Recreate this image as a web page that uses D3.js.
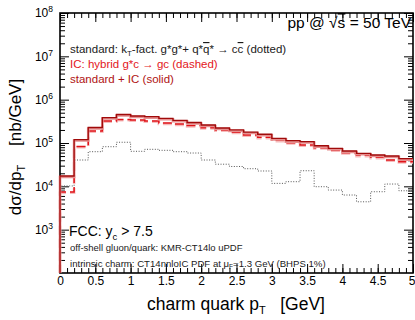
<!DOCTYPE html>
<html>
<head>
<meta charset="utf-8">
<script src="https://cdn.jsdelivr.net/npm/d3@7/dist/d3.min.js"></script>
<style>
body { margin: 0; background: #fff; }
svg text { font-family: "Liberation Sans", Arial, Helvetica, sans-serif; }
</style>
</head>
<body>
<div id="chart"></div>
<script>
// charm quark pT bin edges [GeV]
var ptEdges = [0, 0.2, 0.4, 0.6, 0.8, 1.0, 1.2, 1.4, 1.6, 1.8, 2.0, 2.2, 2.4, 2.6, 2.8, 3.0, 3.2, 3.4, 3.6, 3.8, 4.0, 4.2, 4.4, 4.6, 4.8, 5.0];

// standard + IC (solid)
var sumIC = [17300, 120000, 228000, 387000, 455000, 420000, 405000, 372000, 334000, 297000, 260000, 222000, 200000, 179000, 159000, 128000, 113000, 108000, 86500, 75400, 65300, 57800, 52800, 50100, 43400];
// IC: hybrid g*c -> gc (dashed)
var hybridIC = [7400, 83000, 189000, 322000, 349000, 340000, 322000, 289000, 274000, 253000, 225000, 200000, 177000, 153000, 135000, 115000, 102000, 89900, 77900, 68900, 59700, 52000, 46800, 40500, 37000];
// standard kT-fact. (dotted)
var standardKt = [10200, 40500, 63000, 82100, 104000, 64300, 71500, 67800, 63000, 58700, 40500, 32400, 28700, 25500, 22600, 11700, 12800, 22900, 9800, 8200, 6300, 4400, 7500, 11300, 7900];

var xTickVals = [0, 0.5, 1, 1.5, 2, 2.5, 3, 3.5, 4, 4.5, 5];
var yDecades = [1e3, 1e4, 1e5, 1e6, 1e7, 1e8];
var yExps = ['3', '4', '5', '6', '7', '8'];

render_hist('chart', 415, 320);

function render_hist(select, w, h) {
    var left = 60, right = 413, top = 13, bottom = 273;

    var svg = d3.select('#' + select).append('svg')
        .attr('width', w)
        .attr('height', h);

    var xscale = d3.scaleLinear().domain([0, 5]).range([left, right]);
    var yscale = d3.scaleLog().domain([1e2, 1e8]).range([bottom, top]);

    svg.append('clipPath').attr('id', 'plotclip')
        .append('rect')
        .attr('x', left - 2).attr('y', top)
        .attr('width', right - left + 2).attr('height', bottom - top);

    function histPoints(vals) {
        var pts = [[ptEdges[0], 1e2]];
        vals.forEach(function (v, i) { pts.push([ptEdges[i], v]); });
        pts.push([ptEdges[ptEdges.length - 1], vals[vals.length - 1]]);
        return pts;
    }

    var line = d3.line()
        .x(function (d) { return xscale(d[0]); })
        .y(function (d) { return yscale(d[1]); })
        .curve(d3.curveStepAfter);

    // frame
    svg.append('rect')
        .attr('x', left).attr('y', top)
        .attr('width', right - left).attr('height', bottom - top)
        .attr('fill', 'none')
        .attr('stroke', '#000')
        .attr('stroke-width', 1.6);

    // axes, ticks inside
    var majorLen = 9, minorLen = 5;
    var minorY = yscale.ticks().filter(function (d) {
        return Math.abs(Math.log10(d) - Math.round(Math.log10(d))) > 1e-6;
    });
    var minorX = xscale.ticks(50);

    function styleAxis(g) {
        g.select('.domain').remove();
        g.selectAll('line').attr('stroke', '#000').attr('stroke-width', 1);
    }

    // bottom
    svg.append('g').attr('transform', 'translate(0,' + bottom + ')')
        .call(d3.axisBottom(xscale).tickValues(minorX).tickSizeInner(-minorLen).tickFormat(''))
        .call(styleAxis);
    var xg = svg.append('g').attr('class', 'xaxis').attr('transform', 'translate(0,' + bottom + ')')
        .call(d3.axisBottom(xscale).tickValues(xTickVals).tickSizeInner(-majorLen).tickPadding(3.5)
            .tickFormat(function (d) { return String(d); }))
        .call(styleAxis);
    xg.selectAll('text').attr('fill', '#000').attr('font-size', '12px');
    // last label sits on the page edge; keep it inside
    xg.selectAll('.tick text').filter(function (d) { return d === 5; })
        .attr('text-anchor', 'end').attr('x', 2);

    // top
    svg.append('g').attr('transform', 'translate(0,' + top + ')')
        .call(d3.axisTop(xscale).tickValues(minorX).tickSizeInner(-minorLen).tickFormat(''))
        .call(styleAxis);
    svg.append('g').attr('transform', 'translate(0,' + top + ')')
        .call(d3.axisTop(xscale).tickValues(xTickVals).tickSizeInner(-majorLen).tickFormat(''))
        .call(styleAxis);

    // left
    svg.append('g').attr('transform', 'translate(' + left + ',0)')
        .call(d3.axisLeft(yscale).tickValues(minorY).tickSizeInner(-minorLen).tickFormat(''))
        .call(styleAxis);
    var yg = svg.append('g').attr('class', 'yaxis').attr('transform', 'translate(' + left + ',0)')
        .call(d3.axisLeft(yscale).tickValues(yDecades).tickSizeInner(-majorLen).tickPadding(7)
            .tickFormat(function (d, i) { return yExps[i]; }))
        .call(styleAxis);
    yg.selectAll('.tick text').each(function (d, i) {
        var t = d3.select(this);
        t.text('').attr('fill', '#000').attr('font-size', '12px');
        t.append('tspan').text('10');
        t.append('tspan').attr('dy', -5).attr('font-size', '8.5px').text(yExps[i]);
    });

    // right
    svg.append('g').attr('transform', 'translate(' + right + ',0)')
        .call(d3.axisRight(yscale).tickValues(minorY).tickSizeInner(-minorLen).tickFormat(''))
        .call(styleAxis);
    svg.append('g').attr('transform', 'translate(' + right + ',0)')
        .call(d3.axisRight(yscale).tickValues(yDecades).tickSizeInner(-majorLen).tickFormat(''))
        .call(styleAxis);

    // histograms
    var hg = svg.append('g').attr('clip-path', 'url(#plotclip)');

    hg.append('path')
        .attr('d', line(histPoints(standardKt)))
        .attr('fill', 'none')
        .attr('stroke', '#555')
        .attr('stroke-width', 1)
        .attr('stroke-dasharray', '1,1.6');

    hg.append('path')
        .attr('d', line(histPoints(hybridIC)))
        .attr('fill', 'none')
        .attr('stroke', '#f6bcbc')
        .attr('stroke-width', 2.6)
        .attr('stroke-dasharray', '9,4')
        .attr('transform', 'translate(0,0.8)');
    hg.append('path')
        .attr('d', line(histPoints(hybridIC)))
        .attr('fill', 'none')
        .attr('stroke', '#e0141a')
        .attr('stroke-width', 1.5)
        .attr('stroke-dasharray', '9,4');

    hg.append('path')
        .attr('d', line(histPoints(sumIC)))
        .attr('fill', 'none')
        .attr('stroke', '#e69090')
        .attr('stroke-width', 2.6)
        .attr('transform', 'translate(0,1)');
    hg.append('path')
        .attr('d', line(histPoints(sumIC)))
        .attr('fill', 'none')
        .attr('stroke', '#a00a0a')
        .attr('stroke-width', 1.3);

    // title
    var title = svg.append('text')
        .attr('x', 411).attr('y', 28)
        .attr('text-anchor', 'end')
        .attr('font-size', '15.5px')
        .attr('fill', '#000');
    title.append('tspan').text('pp @ \u221A');
    title.append('tspan').attr('text-decoration', 'overline').text('s');
    title.append('tspan').text(' = 50 TeV');

    // legend texts
    var l1 = svg.append('text').attr('x', 70).attr('y', 53)
        .attr('font-size', '11.5px').attr('fill', '#1a1a1a');
    l1.append('tspan').text('standard: k');
    l1.append('tspan').attr('dy', 3).attr('font-size', '8px').text('T');
    l1.append('tspan').attr('dy', -3).text('-fact. g*g*+ q*');
    l1.append('tspan').attr('text-decoration', 'overline').text('q');
    l1.append('tspan').text('* \u2192 c');
    l1.append('tspan').attr('text-decoration', 'overline').text('c');
    l1.append('tspan').text(' (dotted)');

    svg.append('text').attr('x', 70).attr('y', 68)
        .attr('font-size', '11.5px').attr('fill', '#e3161b')
        .text('IC: hybrid g*c \u2192 gc (dashed)');

    svg.append('text').attr('x', 70).attr('y', 83)
        .attr('font-size', '11.5px').attr('fill', '#b01212')
        .text('standard + IC (solid)');

    // bottom notes
    var f1 = svg.append('text').attr('x', 69).attr('y', 236)
        .attr('font-size', '14px').attr('fill', '#000');
    f1.append('tspan').text('FCC: y');
    f1.append('tspan').attr('dy', 3.5).attr('font-size', '9.5px').text('c');
    f1.append('tspan').attr('dy', -3.5).text(' > 7.5');

    svg.append('text').attr('x', 70).attr('y', 251)
        .attr('font-size', '9.5px').attr('fill', '#1a1a1a')
        .text('off-shell gluon/quark: KMR-CT14lo uPDF');

    var f3 = svg.append('text').attr('x', 70).attr('y', 266.5)
        .attr('font-size', '9.6px').attr('fill', '#1a1a1a');
    f3.append('tspan').text('intrinsic charm: CT14nnloIC PDF at \u03BC');
    f3.append('tspan').attr('dy', 2.5).attr('font-size', '6.5px').text('F');
    f3.append('tspan').attr('dy', -2.5).text('=1.3 GeV (BHPS 1%)');

    // axis titles
    var xt = svg.append('text')
        .attr('x', 236).attr('y', 310)
        .attr('text-anchor', 'middle')
        .attr('font-size', '17.5px')
        .attr('fill', '#000');
    xt.append('tspan').text('charm quark p');
    xt.append('tspan').attr('dy', 4).attr('font-size', '11px').text('T');
    xt.append('tspan').attr('dy', -4).text('\u00a0\u00a0\u00a0[GeV]');

    var yt = svg.append('text')
        .attr('transform', 'translate(21,147) rotate(-90)')
        .attr('text-anchor', 'middle')
        .attr('font-size', '17px')
        .attr('fill', '#000');
    yt.append('tspan').text('d\u03C3/dp');
    yt.append('tspan').attr('dy', 4).attr('font-size', '11px').text('T');
    yt.append('tspan').attr('dy', -4).text('\u00a0\u00a0\u00a0\u00a0[nb/GeV]');
}
</script>
</body>
</html>
